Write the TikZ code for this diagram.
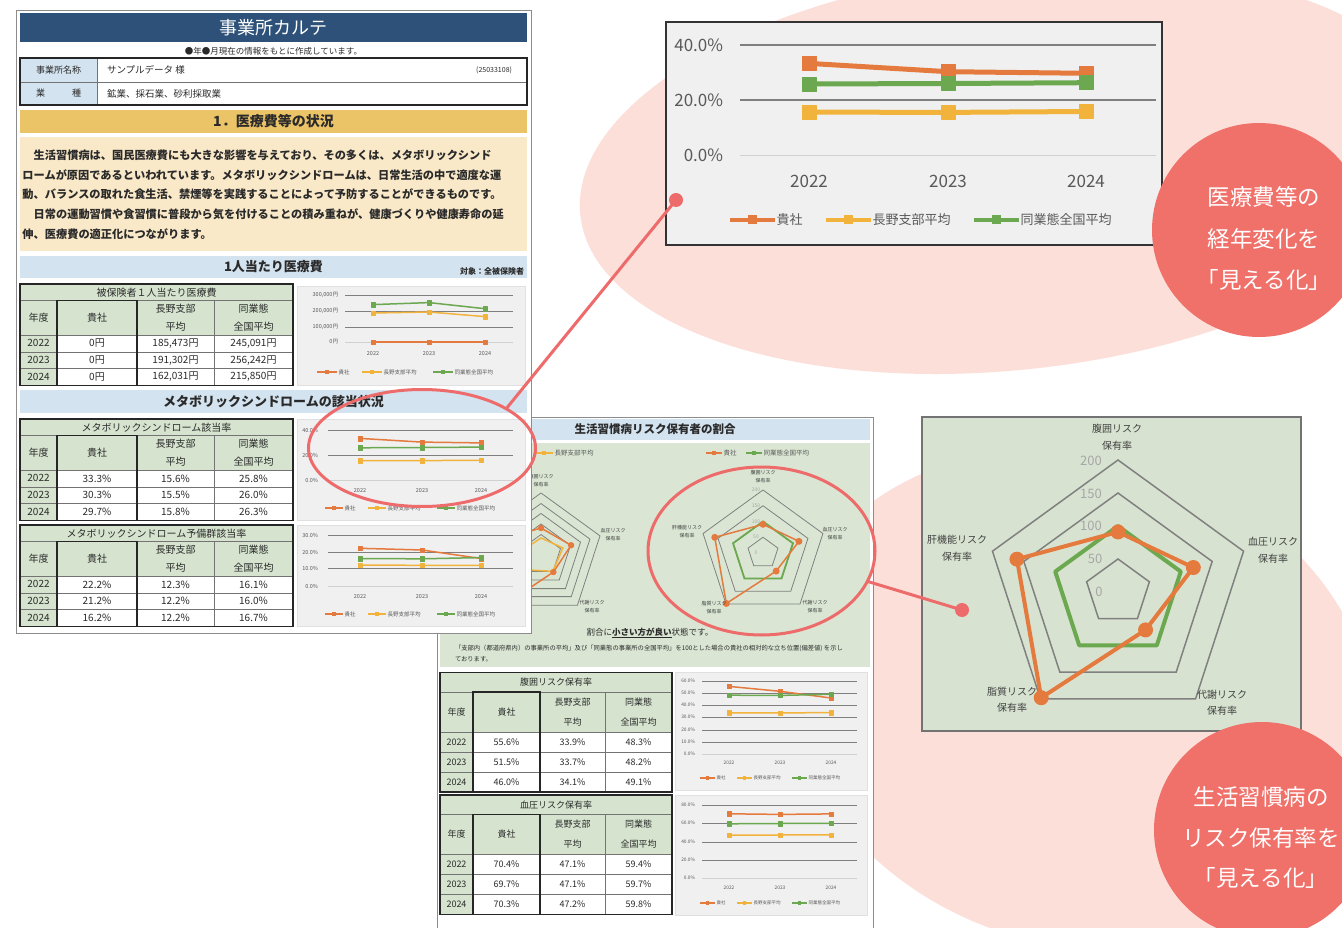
\documentclass[tikz,border=0pt]{standalone}
\usepackage{fontspec}
\setmainfont{Noto Sans CJK JP}
\usetikzlibrary{shapes.geometric,plotmarks}
\definecolor{palepink}{HTML}{FCDFD9}
\definecolor{cCoral}{HTML}{F0706A}
\definecolor{hlred}{HTML}{EE6B6B}
\definecolor{sOrange}{HTML}{E47A3E}
\definecolor{sYellow}{HTML}{F2B33D}
\definecolor{sGreen}{HTML}{6BA84F}
\definecolor{titleblue}{HTML}{2D5178}
\definecolor{cGold}{HTML}{ECC468}
\definecolor{cBeige}{HTML}{F9E9C8}
\definecolor{lblue}{HTML}{D3E3EF}
\definecolor{tgreen}{HTML}{D6E4CF}
\definecolor{chartbg}{HTML}{F0F0F0}
\definecolor{rgreen}{HTML}{D7E3D0}
\definecolor{pgreen}{HTML}{DAE6D3}
\definecolor{axisgray}{HTML}{595959}
\definecolor{gridgray}{HTML}{7F7F7F}
\definecolor{gridlight}{HTML}{D0D0D0}
\definecolor{ringgray}{HTML}{808080}
\definecolor{txtdark}{HTML}{2A2A2A}
\definecolor{valgray}{HTML}{A6A6A6}

\newcommand{\fsz}[1]{\fontsize{#1}{#1}\selectfont}
% table geometry
\newcommand{\setcols}[5]{\def\ca{#1}\def\cb{#2}\def\cc{#3}\def\cd{#4}\def\ce{#5}}
\newcommand{\setrows}[5]{\def\tth{#1}\def\thh{#2}\def\trh{#3}\def\tfs{#4}\def\tls{#5}}
\newcommand{\tframe}[2]{%
 \pgfmathsetmacro{\tya}{#1+\tth}%
 \pgfmathsetmacro{\tyb}{\tya+\thh}%
 \pgfmathsetmacro{\tyc}{\tyb+3*\trh}%
 \fill[tgreen] (\ca,#1) rectangle (\ce,\tyb);
 \fill[tgreen] (\ca,\tyb) rectangle (\cb,\tyc);
 \fill[white] (\cb,\tyb) rectangle (\ce,\tyc);
 \draw[cellline] (\ca,\tya) -- (\ce,\tya);
 \foreach \k in {0,1,2} {\draw[cellline] (\ca,{\tyb+\k*\trh}) -- (\ce,{\tyb+\k*\trh});}
 \draw[cellline] (\cc,\tya) -- (\cc,\tyc);
 \draw[cellline] (\cd,\tya) -- (\cd,\tyc);
 \draw[tthick] (\ca,#1) rectangle (\ce,\tyc);
 \draw[tthick] (\cb,\tya) rectangle (\cc,\tyc);
 \node[tt, font=\fsz{\tfs}] at ({(\ca+\ce)/2},{(#1+\tya)/2}) {#2};
 \node[tt, font=\fsz{\tfs}] at ({(\ca+\cb)/2},{(\tya+\tyb)/2}) {年度};
 \node[tt, font=\fsz{\tfs}] at ({(\cb+\cc)/2},{(\tya+\tyb)/2}) {貴社};
 \node[tt, align=center, font=\fontsize{\tfs}{\tls}\selectfont] at ({(\cc+\cd)/2},{(\tya+\tyb)/2}) {長野支部\\平均};
 \node[tt, align=center, font=\fontsize{\tfs}{\tls}\selectfont] at ({(\cd+\ce)/2},{(\tya+\tyb)/2}) {同業態\\全国平均};
}
\newcommand{\trow}[5]{%
 \pgfmathsetmacro{\tyr}{\tyb+(#1+0.5)*\trh}%
 \node[tt, font=\fsz{\tfs}] at ({(\ca+\cb)/2},\tyr) {#2};
 \node[tt, font=\fsz{\tfs}] at ({(\cb+\cc)/2},\tyr) {#3};
 \node[tt, font=\fsz{\tfs}] at ({(\cc+\cd)/2},\tyr) {#4};
 \node[tt, font=\fsz{\tfs}] at ({(\cd+\ce)/2},\tyr) {#5};
}
% charts
\newcommand{\cgrid}[6]{%
 \foreach \gy/\gl/\gc in {#5} {
  \draw[draw=\gc, line width=#6] (#2,\gy) -- (#3,\gy);
  \node[tt, anchor=east, text=axisgray, font=\fsz{#4}] at (#1,\gy) {\gl};
 }}
\newcommand{\cyears}[5]{%
 \node[tt, text=axisgray, font=\fsz{#2}] at (#3,#1) {2022};
 \node[tt, text=axisgray, font=\fsz{#2}] at (#4,#1) {2023};
 \node[tt, text=axisgray, font=\fsz{#2}] at (#5,#1) {2024};}
\newcommand{\cser}[4]{\draw[color=#1, line width=#2, line join=round, mark=square*, mark size=#3, mark options={fill=#1, draw=#1, line width=0.4pt}] plot coordinates {#4};}
\newcommand{\clgd}[6]{\foreach \lx/\lc/\lt in {#6} {
  \draw[color=\lc, line width=#4] (\lx,#1) -- ({\lx+#2},#1);
  \fill[fill=\lc] ({\lx+#2/2-#5},{#1-#5}) rectangle ({\lx+#2/2+#5},{#1+#5});
  \node[tt, anchor=west, text=axisgray, font=\fsz{#3}] at ({\lx+#2+1.5},#1) {\lt};
 }}
% radar
\newcommand{\rings}[5]{\foreach \f in {#4} {
  \draw[#5] ({#1},{#2-#3*\f}) -- ({#1+#3*\f*sin(72)},{#2-#3*\f*cos(72)}) -- ({#1+#3*\f*sin(144)},{#2-#3*\f*cos(144)}) -- ({#1+#3*\f*sin(216)},{#2-#3*\f*cos(216)}) -- ({#1+#3*\f*sin(288)},{#2-#3*\f*cos(288)}) -- cycle;}}
\newcommand{\rpoly}[9]{\draw[#1] ({#2},{#3-#5/200*#4}) -- ({#2+#6/200*#4*sin(72)},{#3-#6/200*#4*cos(72)}) -- ({#2+#7/200*#4*sin(144)},{#3-#7/200*#4*cos(144)}) -- ({#2+#8/200*#4*sin(216)},{#3-#8/200*#4*cos(216)}) -- ({#2+#9/200*#4*sin(288)},{#3-#9/200*#4*cos(288)}) -- cycle;}
\newcommand{\rmark}[9]{\foreach \ang/\val in {0/#5,72/#6,144/#7,216/#8,288/#9} {\fill[#1] ({#2+\val/200*#4*sin(\ang)},{#3-\val/200*#4*cos(\ang)}) circle[radius=\mr];}}

\begin{document}
\begin{tikzpicture}[x=1pt,y=-1pt,
  tt/.style={inner sep=0pt, outer sep=0pt, text=txtdark},
  cellline/.style={draw=black!55, line width=0.6pt},
  tthick/.style={draw=black!85, line width=1.4pt},
  ring/.style={draw=ringgray, line width=0.8pt},
  hl/.style={ellipse, draw=hlred, line width=3pt, inner sep=0pt, outer sep=0pt},
  conn/.style={draw=hlred, line width=3pt},
  docborder/.style={draw=black!45, line width=1pt},
  rlabel/.style={tt, align=center, text=black!75},
]
\useasboundingbox (0,0) rectangle (1342,928);
\fill[white] (0,0) rectangle (1342,928);

% ---------- pale pink backgrounds ----------
\fill[palepink, rotate around={6:(1010,170)}] (1010,170) ellipse [x radius=432, y radius=200];
\fill[palepink, rotate around={-18:(1080,700)}] (1080,700) ellipse [x radius=300, y radius=245];

% ---------- middle document ----------
\fill[white] (437,417) rectangle (873,930);
\draw[docborder] (437,930) -- (437,417) -- (873,417) -- (873,930);
\fill[lblue] (440,419) rectangle (870,440);
\node[tt, font=\bfseries\fsz{11.5}] (midtitle) at (655,429.5) {生活習慣病リスク保有者の割合};
\fill[pgreen] (440,443) rectangle (870,667);
% left radar (partly hidden)
\rings{541}{555}{62}{0.33,0.5,0.67,0.83,1}{ring}
\rpoly{draw=sYellow, line width=1.5pt}{541}{555}{62}{55}{74}{65}{60}{58}
\rpoly{draw=sOrange, line width=1.5pt}{541}{555}{62}{87}{102}{68}{198}{150}
\def\mr{3.2}
\rmark{sOrange}{541}{555}{62}{87}{102}{68}{198}{150}
\node[rlabel, font=\fontsize{5}{8}\selectfont] (lrA) at (541,481) {腹囲リスク\\保有率};
\node[rlabel, font=\fontsize{5}{8}\selectfont] (lrB) at (613,535) {血圧リスク\\保有率};
\node[rlabel, font=\fontsize{5}{8}\selectfont] (lrC) at (592,607) {代謝リスク\\保有率};
\clgd{453}{18}{6.5}{1.5pt}{2}{535/sYellow/長野支部平均}
% right radar
\rings{763}{553}{63}{0.25,0.5,0.75,1}{ring}
\rpoly{draw=sGreen, line width=1.8pt}{763}{553}{63}{100}{100}{100}{100}{100}
\rpoly{draw=sOrange, line width=1.5pt, line join=round}{763}{553}{63}{91}{120}{71}{198}{161}
\def\mr{3.5}
\rmark{sOrange}{763}{553}{63}{91}{120}{71}{198}{161}
\foreach \vy/\vl in {490/200,506/150,521.5/100,537/50,553/0} {\node[tt, text=valgray, font=\fsz{5}] at (756,\vy) {\vl};}
\node[rlabel, font=\fontsize{5}{8}\selectfont] (rrA) at (763,477) {腹囲リスク\\保有率};
\node[rlabel, font=\fontsize{5}{8}\selectfont] (rrB) at (835,534) {血圧リスク\\保有率};
\node[rlabel, font=\fontsize{5}{8}\selectfont] (rrC) at (815,607) {代謝リスク\\保有率};
\node[rlabel, font=\fontsize{5}{8}\selectfont] (rrD) at (714,608) {脂質リスク\\保有率};
\node[rlabel, font=\fontsize{5}{8}\selectfont] (rrE) at (687,532) {肝機能リスク\\保有率};
\clgd{453}{16}{6.5}{1.5pt}{2}{706/sOrange/貴社, 746/sGreen/同業態全国平均}
\node[tt, font=\fsz{8.5}] (good) at (650,633) {割合に\underline{\textbf{小さい方が良い}}状態です。};
\node[tt, anchor=west, font=\fsz{6.3}] (note1) at (455,648) {「支部内（都道府県内）の事業所の平均」及び「同業態の事業所の全国平均」を100とした場合の貴社の相対的な立ち位置(偏差値) を示し};
\node[tt, anchor=west, font=\fsz{6.3}] (note2) at (455,659) {ております。};
% middle tables
\setcols{440}{473}{540}{605}{672}
\setrows{19.5}{40}{20}{9}{20}
\tframe{672.5}{腹囲リスク保有率}
\trow{0}{2022}{55.6\%}{33.9\%}{48.3\%}
\trow{1}{2023}{51.5\%}{33.7\%}{48.2\%}
\trow{2}{2024}{46.0\%}{34.1\%}{49.1\%}
\tframe{795}{血圧リスク保有率}
\trow{0}{2022}{70.4\%}{47.1\%}{59.4\%}
\trow{1}{2023}{69.7\%}{47.1\%}{59.7\%}
\trow{2}{2024}{70.3\%}{47.2\%}{59.8\%}
% chart 4
\fill[chartbg, draw=black!12] (675,672) rectangle (867,790);
\cgrid{695}{702}{857}{4.8}{681/60.0\%/gridgray, 693/50.0\%/gridgray, 705/40.0\%/gridgray, 717/30.0\%/gridgray, 730/20.0\%/gridgray, 742/10.0\%/gridgray, 754/0.0\%/gridlight}{0.7pt}
\cyears{763}{4.8}{729}{780}{831}
\cser{sOrange}{1.5pt}{2.2pt}{(729,686.4) (780,691.3) (831,698.0)}
\cser{sYellow}{1.5pt}{2.2pt}{(729,712.8) (780,713.0) (831,712.5)}
\cser{sGreen}{1.5pt}{2.2pt}{(729,695.2) (780,695.4) (831,694.3)}
\clgd{778}{15}{4.5}{1.3pt}{1.6}{700/sOrange/貴社, 737/sYellow/長野支部平均, 792/sGreen/同業態全国平均}
% chart 5
\fill[chartbg, draw=black!12] (675,795) rectangle (867,915);
\cgrid{695}{702}{857}{4.8}{805/80.0\%/gridgray, 823/60.0\%/gridgray, 842/40.0\%/gridgray, 860/20.0\%/gridgray, 878/0.0\%/gridlight}{0.7pt}
\cyears{888}{4.8}{729}{780}{831}
\cser{sOrange}{1.5pt}{2.2pt}{(729,813.8) (780,814.4) (831,813.9)}
\cser{sYellow}{1.5pt}{2.2pt}{(729,835) (780,835) (831,834.9)}
\cser{sGreen}{1.5pt}{2.2pt}{(729,823.8) (780,823.5) (831,823.4)}
\clgd{903}{15}{4.5}{1.3pt}{1.6}{700/sOrange/貴社, 737/sYellow/長野支部平均, 792/sGreen/同業態全国平均}

% ---------- left document ----------
\fill[white] (16,11) rectangle (531,633);
\draw[docborder] (16,11) rectangle (531,633);
\fill[titleblue] (20,13) rectangle (527,42);
\node[tt, text=white, font=\fsz{18}] (doctitle) at (273.5,27.5) {事業所カルテ};
\node[tt, font=\fsz{8.5}] (docsub) at (273.5,51) {●年●月現在の情報をもとに作成しています。};
\fill[lblue] (20,58) rectangle (97,105);
\draw[cellline] (20,82) -- (527,82);
\draw[cellline] (97,58) -- (97,105);
\draw[tthick] (20,58) rectangle (527,105);
\node[tt, font=\fsz{9}] (lblname) at (58.5,70) {事業所名称};
\node[tt, font=\fsz{9}] (lblind) at (58.5,93.5) {業　　　種};
\node[tt, anchor=west, font=\fsz{9.5}] (valname) at (107,70) {サンプルデータ 様};
\node[tt, anchor=east, font=\fsz{7}] (valid) at (512,70) {(25033108)};
\node[tt, anchor=west, font=\fsz{9.5}] (valind) at (107,93.5) {鉱業、採石業、砂利採取業};
\fill[cGold] (20,110) rectangle (527,133);
\node[tt, font=\bfseries\fsz{14}] (sec1) at (273.5,121.5) {1．医療費等の状況};
\fill[cBeige] (20,137) rectangle (527,251);
\foreach \ly/\lt in {155/{　生活習慣病は、国民医療費にも大きな影響を与えており、その多くは、メタボリックシンド},
 174.8/{ロームが原因であるといわれています。メタボリックシンドロームは、日常生活の中で適度な運},
 194.6/{動、バランスの取れた食生活、禁煙等を実践することによって予防することができるものです。},
 214.4/{　日常の運動習慣や食習慣に普段から気を付けることの積み重ねが、健康づくりや健康寿命の延},
 234.2/{伸、医療費の適正化につながります。}}
 {\node[tt, anchor=west, font=\bfseries\fsz{11.2}] at (22.5,\ly) {\lt};}
\fill[lblue] (20,256) rectangle (527,278);
\node[tt, font=\bfseries\fsz{13}] (hdrcost) at (273.5,267) {1人当たり医療費};
\node[tt, anchor=east, font=\bfseries\fsz{8}] (target) at (524,271) {対象：全被保険者};
\fill[lblue] (20,390) rectangle (527,413);
\node[tt, font=\bfseries\fsz{13}] (hdrmeta) at (273.5,401.5) {メタボリックシンドロームの該当状況};
% left tables
\setcols{20}{57}{137}{214}{293}
\setrows{16.5}{34.5}{16.8}{10}{18}
\tframe{284}{被保険者１人当たり医療費}
\trow{0}{2022}{0円}{185,473円}{245,091円}
\trow{1}{2023}{0円}{191,302円}{256,242円}
\trow{2}{2024}{0円}{162,031円}{215,850円}
\tframe{419}{メタボリックシンドローム該当率}
\trow{0}{2022}{33.3\%}{15.6\%}{25.8\%}
\trow{1}{2023}{30.3\%}{15.5\%}{26.0\%}
\trow{2}{2024}{29.7\%}{15.8\%}{26.3\%}
\tframe{525}{メタボリックシンドローム予備群該当率}
\trow{0}{2022}{22.2\%}{12.3\%}{16.1\%}
\trow{1}{2023}{21.2\%}{12.2\%}{16.0\%}
\trow{2}{2024}{16.2\%}{12.2\%}{16.7\%}
% chart 1
\fill[chartbg, draw=black!12] (297,286) rectangle (525,385);
\cgrid{338}{345}{513}{5.5}{295/300{,}000円/gridgray, 311/200{,}000円/gridgray, 327/100{,}000円/gridgray, 342/0円/gridlight}{0.8pt}
\cyears{354}{5.5}{373}{429}{485}
\cser{sOrange}{1.5pt}{2.3pt}{(373,342) (429,342) (485,342)}
\cser{sYellow}{1.5pt}{2.3pt}{(373,313) (429,312) (485,316.6)}
\cser{sGreen}{1.5pt}{2.3pt}{(373,304.6) (429,302.6) (485,308.7)}
\clgd{372}{20}{5.5}{1.5pt}{2}{317/sOrange/貴社, 362/sYellow/長野支部平均, 433/sGreen/同業態全国平均}
% chart 2
\fill[chartbg, draw=black!12] (297,419) rectangle (525,520);
\cgrid{318}{328}{513}{5.5}{430/40.0\%/gridgray, 455/20.0\%/gridgray, 480/0.0\%/gridlight}{0.8pt}
\cyears{491}{5.5}{360}{422}{481}
\cser{sOrange}{1.5pt}{2.3pt}{(360,438.4) (422,442.1) (481,442.9)}
\cser{sYellow}{1.5pt}{2.3pt}{(360,460.5) (422,460.6) (481,460.3)}
\cser{sGreen}{1.5pt}{2.3pt}{(360,447.8) (422,447.5) (481,447.1)}
\clgd{508}{18}{5.5}{1.5pt}{2}{325/sOrange/貴社, 368/sYellow/長野支部平均, 437/sGreen/同業態全国平均}
% chart 3
\fill[chartbg, draw=black!12] (297,525) rectangle (525,626);
\cgrid{318}{328}{513}{5.5}{535/30.0\%/gridgray, 552/20.0\%/gridgray, 568/10.0\%/gridgray, 586/0.0\%/gridlight}{0.8pt}
\cyears{597}{5.5}{360}{422}{481}
\cser{sOrange}{1.5pt}{2.3pt}{(360,548.3) (422,550) (481,558.5)}
\cser{sYellow}{1.5pt}{2.3pt}{(360,565.1) (422,565.3) (481,565.3)}
\cser{sGreen}{1.5pt}{2.3pt}{(360,558.6) (422,558.8) (481,557.6)}
\clgd{614}{18}{5.5}{1.5pt}{2}{325/sOrange/貴社, 368/sYellow/長野支部平均, 437/sGreen/同業態全国平均}

% ---------- top enlarged chart ----------
\fill[chartbg] (666,22) rectangle (1162,245);
\draw[black!80, line width=1.2pt] (666,22) rectangle (1162,245);
\cgrid{723}{740}{1156}{17}{45/40.0\%/gridgray, 100/20.0\%/gridgray, 155.5/0.0\%/gridlight}{1.8pt}
\cyears{181}{17}{809}{948}{1086}
\cser{sOrange}{5pt}{7pt}{(809,63.4) (948,71.7) (1086,73.3)}
\cser{sYellow}{5pt}{7pt}{(809,112.1) (948,112.4) (1086,111.5)}
\cser{sGreen}{5pt}{7pt}{(809,84) (948,83.5) (1086,82.7)}
\clgd{220}{45}{13}{4pt}{4.5}{730/sOrange/貴社, 826/sYellow/長野支部平均, 974/sGreen/同業態全国平均}

% ---------- enlarged radar ----------
\fill[rgreen] (922,417) rectangle (1301,731);
\draw[black!55, line width=1.2pt] (922,417) rectangle (1301,731);
\rings{1118}{592}{132}{0.25,0.5,0.75,1}{draw=ringgray, line width=1.5pt}
\foreach \vy/\vl/\vx in {461/200/1091, 494/150/1091, 526/100/1091, 559/50/1095, 592/0/1099} {\node[tt, text=valgray, font=\fsz{13}] at (\vx,\vy) {\vl};}
\rpoly{draw=sGreen, line width=4pt, line join=round}{1118}{592}{132}{100}{100}{100}{100}{100}
\rpoly{draw=sOrange, line width=4pt, line join=round}{1118}{592}{132}{91}{120}{71}{198}{161}
\def\mr{7.5}
\rmark{sOrange}{1118}{592}{132}{91}{120}{71}{198}{161}
\node[rlabel, font=\fontsize{10}{16.5}\selectfont] (axA) at (1117,437) {腹囲リスク\\保有率};
\node[rlabel, font=\fontsize{10}{16.5}\selectfont] (axB) at (1273,550) {血圧リスク\\保有率};
\node[rlabel, font=\fontsize{10}{16.5}\selectfont] (axC) at (1222,702.5) {代謝リスク\\保有率};
\node[rlabel, font=\fontsize{10}{16.5}\selectfont] (axD) at (1012,699.5) {脂質リスク\\保有率};
\node[rlabel, font=\fontsize{10}{16.5}\selectfont] (axE) at (957,548) {肝機能リスク\\保有率};

% ---------- coral circles ----------
\fill[cCoral] (1259,230) circle[radius=107];
\node[tt, text=white, font=\fsz{22.5}] (c1a) at (1264,197) {医療費等の};
\node[tt, text=white, font=\fsz{22.5}] (c1b) at (1264,239) {経年変化を};
\node[tt, text=white, font=\fsz{22.5}] (c1c) at (1264,280) {「見える化」};
\fill[cCoral] (1262,830) circle[radius=108];
\node[tt, text=white, font=\fsz{22.5}] (c2a) at (1261,797) {生活習慣病の};
\node[tt, text=white, font=\fsz{22.5}] (c2b) at (1261,838) {リスク保有率を};
\node[tt, text=white, font=\fsz{22.5}] (c2c) at (1261,878) {「見える化」};

% ---------- highlights and connectors ----------
\node[hl, minimum width=227pt, minimum height=117pt] (ellA) at (422,448) {};
\node[hl, minimum width=227pt, minimum height=168pt] (ellB) at (761.5,551) {};
\coordinate (dotA) at (676,200);
\coordinate (dotB) at (962,610);
\draw[conn] (dotA) -- (ellA.25);
\draw[conn] (dotB) -- (ellB.-16);
\fill[hlred] (dotA) circle[radius=7];
\fill[hlred] (dotB) circle[radius=7];
\end{tikzpicture}
\end{document}
